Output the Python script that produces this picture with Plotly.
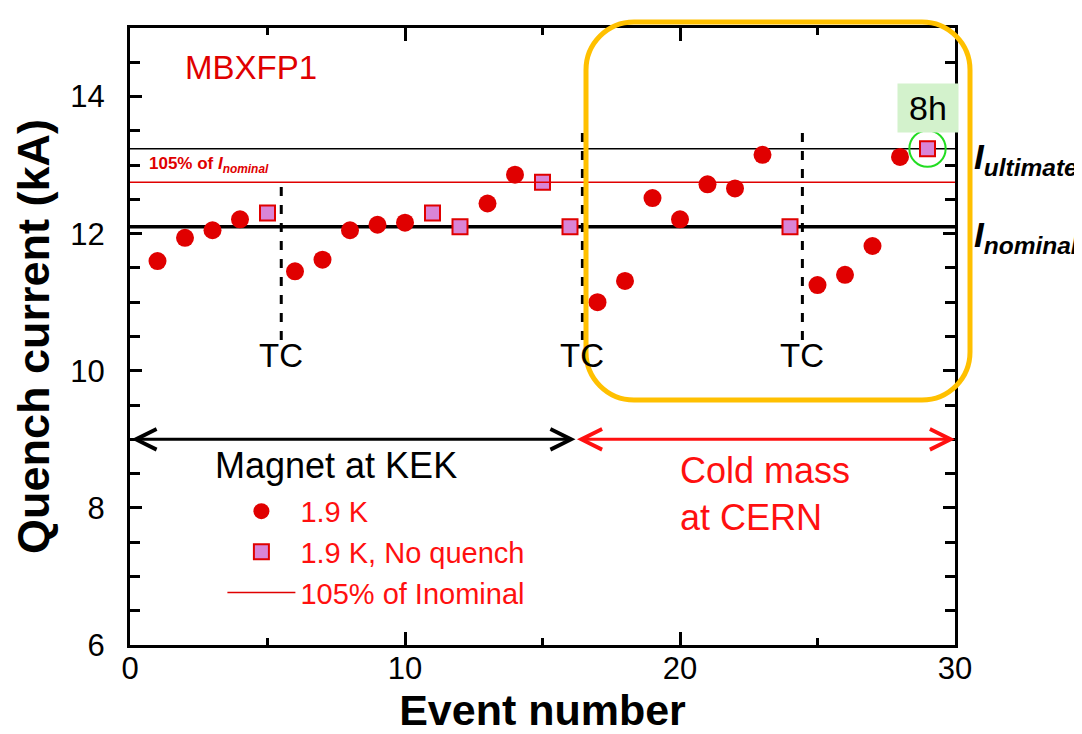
import plotly.graph_objects as go

# ---- data ----
event_q = [1, 2, 3, 4, 6, 7, 8, 9, 10, 13, 14, 17, 18, 19, 20, 21, 22, 23, 25, 26, 27, 28]
current_q = [11.60, 11.94, 12.05, 12.21, 11.45, 11.62, 12.05, 12.13, 12.16, 12.44, 12.86,
             11.00, 11.31, 12.52, 12.21, 12.72, 12.66, 13.15, 11.25, 11.40, 11.82, 13.12]
event_nq = [5, 11, 12, 15, 16, 24, 29]
current_nq = [12.30, 12.30, 12.10, 12.75, 12.10, 12.10, 13.24]

I_nominal = 12.10
I_105 = 12.75
I_ultimate = 13.24

tc_events = [5.5, 16.45, 24.45]
tc_tops = [12.7, 13.5, 13.5]
tc_bottom = 10.45
tc_label_y = 10.22

kek_range = [0, 16.2]
cern_range = [16.2, 30]
arrow_y = 9.0

x_range = [0, 30]
y_range = [6, 15]

FONT = "Liberation Sans, Arial, sans-serif"
RED = "#e00000"
BRIGHT_RED = "#ff1010"

fig = go.Figure()

fig.add_trace(go.Scatter(
    x=event_q, y=current_q, mode="markers", name="1.9 K",
    marker=dict(symbol="circle", size=18, color=RED, line=dict(width=0)),
    cliponaxis=False))
fig.add_trace(go.Scatter(
    x=event_nq, y=current_nq, mode="markers", name="1.9 K, No quench",
    marker=dict(symbol="square", size=15, color="#d985d6", line=dict(width=2, color=RED)),
    cliponaxis=False))
fig.add_trace(go.Scatter(
    x=x_range, y=[I_105, I_105], mode="lines", name="105% of Inominal",
    line=dict(color=RED, width=1.5)))

# reference lines
fig.add_shape(type="line", x0=x_range[0], x1=x_range[1], y0=I_ultimate, y1=I_ultimate,
              line=dict(color="black", width=1.5), layer="below")
fig.add_shape(type="line", x0=x_range[0], x1=x_range[1], y0=I_nominal, y1=I_nominal,
              line=dict(color="black", width=3.5), layer="below")

# TC dashed lines + labels
for xe, yt in zip(tc_events, tc_tops):
    fig.add_shape(type="line", x0=xe, x1=xe, y0=tc_bottom, y1=yt,
                  line=dict(color="black", width=3, dash="dash"), layer="below")
    fig.add_annotation(x=xe, y=tc_label_y, text="TC", showarrow=False,
                       font=dict(size=33, color="black", family=FONT))

# arrows
fig.add_annotation(x=kek_range[1], y=arrow_y, ax=kek_range[0], ay=arrow_y,
                   xref="x", yref="y", axref="x", ayref="y", text="",
                   showarrow=True, arrowside="end+start", arrowhead=5, arrowsize=1.35,
                   arrowwidth=3, arrowcolor="black")
fig.add_annotation(x=cern_range[1], y=arrow_y, ax=cern_range[0], ay=arrow_y,
                   xref="x", yref="y", axref="x", ayref="y", text="",
                   showarrow=True, arrowside="end+start", arrowhead=5, arrowsize=1.35,
                   arrowwidth=3, arrowcolor=BRIGHT_RED)

fig.add_annotation(x=7.5, y=8.62, text="Magnet at KEK", showarrow=False,
                   font=dict(size=36, color="black", family=FONT))
fig.add_annotation(x=19.93, y=8.2, text="Cold mass<br>at CERN", showarrow=False,
                   align="left", xanchor="left",
                   font=dict(size=36, color=BRIGHT_RED, family=FONT))

fig.add_annotation(x=4.4, y=14.42, text="MBXFP1", showarrow=False,
                   font=dict(size=33, color=RED, family=FONT))

fig.add_annotation(x=0.6, y=13.0, text="<b>105% of <i>I</i><sub><i>nominal</i></sub></b>",
                   showarrow=False, xanchor="left",
                   font=dict(size=17, color=RED, family=FONT))

# right side labels
fig.add_annotation(xref="paper", yref="y", x=1.021, y=I_ultimate - 0.15, xanchor="left",
                   text="<b><i>I<sub>ultimate</sub></i></b>", showarrow=False,
                   font=dict(size=35, color="black", family=FONT))
fig.add_annotation(xref="paper", yref="y", x=1.021, y=I_nominal - 0.15, xanchor="left",
                   text="<b><i>I<sub>nominal</sub></i></b>", showarrow=False,
                   font=dict(size=35, color="black", family=FONT))

# 8h label and green circle
fig.add_annotation(x=event_nq[-1], y=current_nq[-1] + 0.6, text="8h", showarrow=False,
                   bgcolor="#d3f2cc", width=58, height=46,
                   font=dict(size=34, color="black", family=FONT))
fig.add_shape(type="circle", x0=event_nq[-1] - 0.66, x1=event_nq[-1] + 0.66,
              y0=current_nq[-1] - 0.265, y1=current_nq[-1] + 0.265,
              line=dict(color="#22dd22", width=2))

# page offset compensation (browser body margin)
OFF = 8
L, R, T, B = 130, 955, 28, 645
W, H = R - L, B - T
FIG_W, FIG_H = 1082 - OFF, 734 - OFF

def px(xp): return (xp - L) / W
def py(yp): return (B - yp) / H

# orange rounded box (paper coords, pixel-based rounding)
bx0, bx1, by0, by1, rad = 586, 970, 22, 400, 48
k = 0.5523 * rad
path = (
    f"M {px(bx0 + rad)} {py(by0)} "
    f"L {px(bx1 - rad)} {py(by0)} "
    f"C {px(bx1 - rad + k)} {py(by0)} {px(bx1)} {py(by0 + rad - k)} {px(bx1)} {py(by0 + rad)} "
    f"L {px(bx1)} {py(by1 - rad)} "
    f"C {px(bx1)} {py(by1 - rad + k)} {px(bx1 - rad + k)} {py(by1)} {px(bx1 - rad)} {py(by1)} "
    f"L {px(bx0 + rad)} {py(by1)} "
    f"C {px(bx0 + rad - k)} {py(by1)} {px(bx0)} {py(by1 - rad + k)} {px(bx0)} {py(by1 - rad)} "
    f"L {px(bx0)} {py(by0 + rad)} "
    f"C {px(bx0)} {py(by0 + rad - k)} {px(bx0 + rad - k)} {py(by0)} {px(bx0 + rad)} {py(by0)} Z"
)
fig.add_shape(type="path", xref="paper", yref="paper", path=path,
              line=dict(color="#ffc000", width=5))

axis_common = dict(showline=True, linewidth=3, linecolor="black", mirror="ticks",
                   ticks="inside", tickwidth=3, tickcolor="black", showgrid=False,
                   zeroline=False, automargin=False,
                   tickfont=dict(size=31, color="black", family=FONT))

fig.update_xaxes(range=x_range, dtick=10, ticklen=13, ticklabelstandoff=-6,
                 minor=dict(dtick=5, ticklen=7, tickwidth=2.5, tickcolor="black", ticks="inside"),
                 title=dict(text="<b>Event number</b>", standoff=4,
                            font=dict(size=43, color="black", family=FONT)),
                 **axis_common)
fig.update_yaxes(range=y_range, dtick=2, ticklen=12, ticklabelstandoff=16,
                 minor=dict(dtick=0.5, ticklen=10, tickwidth=2.5, tickcolor="black", ticks="inside"),
                 title=dict(text="<b>Quench current (kA)</b>", standoff=10,
                            font=dict(size=45, color="black", family=FONT)),
                 **axis_common)

fig.update_layout(
    width=FIG_W, height=FIG_H,
    margin=dict(l=L - OFF, r=FIG_W - (R - OFF), t=T - OFF, b=FIG_H - (B - OFF)),
    plot_bgcolor="white", paper_bgcolor="white",
    font=dict(family=FONT),
    legend=dict(x=0.112, y=0.258, xanchor="left", yanchor="top",
                bgcolor="rgba(0,0,0,0)", font=dict(size=29, color=BRIGHT_RED, family=FONT),
                itemwidth=68, tracegroupgap=0),
)

fig.write_html("out.html")
